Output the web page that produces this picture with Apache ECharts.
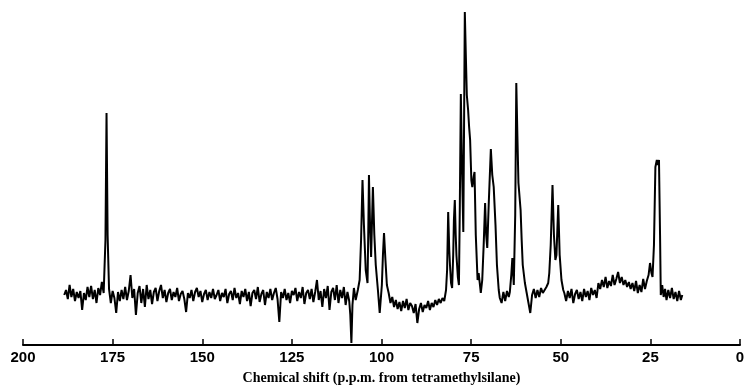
<!DOCTYPE html>
<html>
<head>
<meta charset="utf-8">
<script src="https://cdn.jsdelivr.net/npm/echarts@6/dist/echarts.min.js"></script>
<style>html,body{margin:0;padding:0;background:#fff}#c{width:748px;height:387px}</style>
</head>
<body>
<div id="c"></div>
<script>
// Chemical shift (ppm) and relative intensity pairs
const carbonylRegion = [
  [188.5,0],[188.0,5],[187.5,-4],[187.0,10],[186.5,-2],[186.0,6],[185.5,-6],[185.0,3],[184.5,-3],[184.0,4],
  [183.5,-15],[183.0,2],[182.5,-5],[182.0,8],[181.5,-2],[181.0,9],[180.5,-4],[180.0,5],[179.5,-8],[179.0,7],
  [178.5,0],[178.0,13],[177.5,2],[177.0,55],[176.7,182],[176.4,60],[176.0,6],[175.5,-8],[175.0,4],[174.5,-3],
  [174.0,-18],[173.5,3],[173.0,-6],[172.5,5],[172.0,-4],[171.5,8],[171.0,-5],[170.5,4],[170.0,20],[169.5,-3],
  [169.0,6],[168.5,-20],[168.0,2],[167.5,9],[167.0,-8],[166.5,6],[166.0,-12],[165.5,10],[165.0,-4],[164.5,5],
  [164.0,-9],[163.5,3],[163.0,7],[162.5,-6],[162.0,4],[161.5,10],[161.0,-3],[160.5,5],[160.0,-7],[159.5,2],
  [159.0,6],[158.5,-5],[158.0,3],[157.5,-2],[157.0,7],[156.5,-6],[156.0,1],[155.5,4],[155.0,-4],[154.5,-17],
  [154.0,2],[153.5,-3],[153.0,5],[152.5,-6],[152.0,3],[151.5,7],[151.0,-2],[150.5,4],[150.0,-7]
];
const midNoise = [
  [149.5,1],[149.0,5],[148.5,-5],[148.0,3],[147.5,-3],[147.0,6],[146.5,-4],[146.0,0],[145.5,5],[145.0,-6],
  [144.5,2],[144.0,-2],[143.5,6],[143.0,-8],[142.5,1],[142.0,4],[141.5,-5],[141.0,7],[140.5,-3],[140.0,2],
  [139.5,-9],[139.0,4],[138.5,-2],[138.0,6],[137.5,-6],[137.0,3],[136.5,-11],[136.0,2],[135.5,5],[135.0,-4],
  [134.5,8],[134.0,-7],[133.5,1],[133.0,5],[132.5,-10],[132.0,3],[131.5,-3],[131.0,6],[130.5,-5],[130.0,2],
  [129.5,7],[129.0,-4],[128.5,-27],[128.0,3],[127.5,-3],[127.0,6],[126.5,-5],[126.0,2],[125.5,-8],[125.0,4],
  [124.5,0],[124.0,7],[123.5,-6],[123.0,3],[122.5,-3],[122.0,8],[121.5,-9],[121.0,2],[120.5,5],[120.0,-4],
  [119.5,6],[119.0,-7],[118.5,3],[118.0,15],[117.5,-5],[117.0,4],[116.5,-12],[116.0,6],[115.5,-3],[115.0,9],
  [114.5,-15],[114.0,3],[113.5,7],[113.0,-5],[112.5,10],[112.0,-8],[111.5,5],[111.0,-3],[110.5,8],[110.0,-10],
  [109.5,3],[109.0,-6],[108.7,-20],[108.4,-48],[108.1,-10],[107.7,7],[107.2,-5]
];
const anomericRegion = [
  [106.6,5],[106.1,15],[105.7,55],[105.3,115],[104.9,70],[104.4,25],[103.9,12],[103.7,60],[103.5,120],[103.2,70],
  [102.9,38],[102.4,108],[102.0,60],[101.6,30],[101.0,5],[100.5,-18],[99.9,10],[99.6,40],[99.3,62],[98.9,35],
  [98.5,10],[98.0,2],[97.5,-8],[97.0,-2],[96.5,-12],[96.0,-5],[95.5,-14],[95.0,-7],[94.5,-16],[94.0,-6],
  [93.5,-13],[93.0,-4],[92.5,-15],[92.0,-8],[91.5,-11],[91.0,-18],[90.5,-9],[90.0,-28],[89.5,-14],[89.0,-8],
  [88.5,-17],[88.0,-10],[87.5,-13],[87.0,-6],[86.5,-15],[86.0,-8],[85.5,-12],[85.0,-5],[84.5,-10],[84.0,-4],
  [83.5,-8],[83.0,-3],[82.5,-6]
];
const ringRegion = [
  [82.3,-5],[82.0,5],[81.7,25],[81.4,83],[81.1,45],[80.9,30],[80.6,12],[80.3,7],[80.0,40],[79.8,75],
  [79.55,95],[79.3,60],[79.1,40],[78.7,18],[78.4,10],[78.15,90],[77.87,201],[77.5,120],[77.18,63],[76.95,180],
  [76.76,283],[76.48,240],[76.2,200],[75.84,185],[75.56,168],[75.28,155],[74.94,115],[74.67,108],[74.3,118],[74.05,123],
  [73.7,60],[73.2,15],[72.9,22],[72.6,12],[72.3,2],[71.9,15],[71.5,50],[71.1,92],[70.8,60],[70.5,47],
  [70.1,90],[69.5,146],[69.1,120],[68.7,108],[68.2,70],[67.8,30],[67.3,5],[67.0,-3],[66.5,-8],[66.0,3],
  [65.5,-6],[65.0,4],[64.5,-2],[64.2,3],[63.8,20],[63.5,37],[63.1,10],[62.7,80],[62.4,212],[62.1,160],
  [61.8,112],[61.5,110],[61.2,85],[60.9,55],[60.6,30],[60.0,12]
];
const aliphaticRegion = [
  [59.5,2],[59.0,-8],[58.5,-18],[58.0,0],[57.5,6],[57.0,-3],[56.5,5],[56.0,-2],[55.5,7],[55.0,2],
  [54.5,5],[54.0,8],[53.5,12],[53.2,22],[52.8,50],[52.3,110],[51.9,60],[51.5,35],[51.2,40],[50.7,90],
  [50.3,40],[49.8,15],[49.3,5],[49.0,2],[48.5,-6],[48.0,4],[47.5,-3],[47.0,6],[46.5,-8],[46.0,1],
  [45.5,5],[45.0,-4],[44.5,3],[44.0,-6],[43.5,6],[43.0,-2],[42.5,4],[42.0,-5],[41.5,7],[41.0,0],
  [40.5,5],[40.0,-3],[39.5,12],[39.0,6],[38.5,15],[38.0,8],[37.5,18],[37.0,7],[36.5,14],[36.0,9],
  [35.5,20],[35.0,10],[34.5,16],[34.0,23],[33.5,12],[33.0,18],[32.5,10],[32.0,15],[31.5,8],[31.0,13],
  [30.5,6],[30.0,12],[29.5,4],[29.0,14],[28.5,2],[28.0,10],[27.5,3],[27.0,16],[26.5,6],[26.0,14],
  [25.5,20],[25.1,32],[24.7,22],[24.4,18],[24.0,50],[23.6,128],[23.2,135],[22.9,130],[22.6,135],[22.3,60],
  [22.1,0],[21.7,10],[21.3,-2],[20.9,6],[20.5,-5],[20.0,5],[19.5,-3],[19.0,7],[18.5,-4],[18.0,3],
  [17.5,-6],[17.0,4],[16.5,-5],[16.1,0]
];
const tickValues = [200,175,150,125,100,75,50,25,0];
const axisTitle = 'Chemical shift (p.p.m. from tetramethylsilane)';

const spectrum = [].concat(carbonylRegion, midNoise, anomericRegion, ringRegion, aliphaticRegion);

const chart = echarts.init(document.getElementById('c'), null, {renderer: 'canvas'});
chart.setOption({
  animation: false,
  backgroundColor: '#fff',
  grid: {left: 23, right: 8, top: 0, bottom: 42, containLabel: false, outerBoundsMode: 'none'},
  xAxis: {
    type: 'value',
    min: 0, max: 200, interval: 25,
    inverse: true,
    axisLine: {show: true, onZero: false, lineStyle: {color: '#000', width: 2}},
    axisTick: {show: true, inside: true, length: 6, lineStyle: {color: '#000', width: 1.5}},
    axisLabel: {color: '#000', fontSize: 15, fontWeight: 'bold', fontFamily: 'Liberation Sans, Arial, sans-serif', margin: 5,
      formatter: v => tickValues.indexOf(v) >= 0 ? String(v) : ''},
    splitLine: {show: false},
    name: axisTitle,
    nameLocation: 'middle',
    nameGap: 26,
    nameTextStyle: {color: '#000', fontSize: 14, fontWeight: 'bold', fontFamily: 'Liberation Serif, Times New Roman, serif'}
  },
  yAxis: {
    type: 'value', min: -50, max: 295,
    show: false, splitLine: {show: false}
  },
  series: [{
    type: 'line',
    data: spectrum,
    showSymbol: false,
    lineStyle: {color: '#000', width: 2},
    itemStyle: {color: '#000'}
  }]
});
</script>
</body>
</html>
